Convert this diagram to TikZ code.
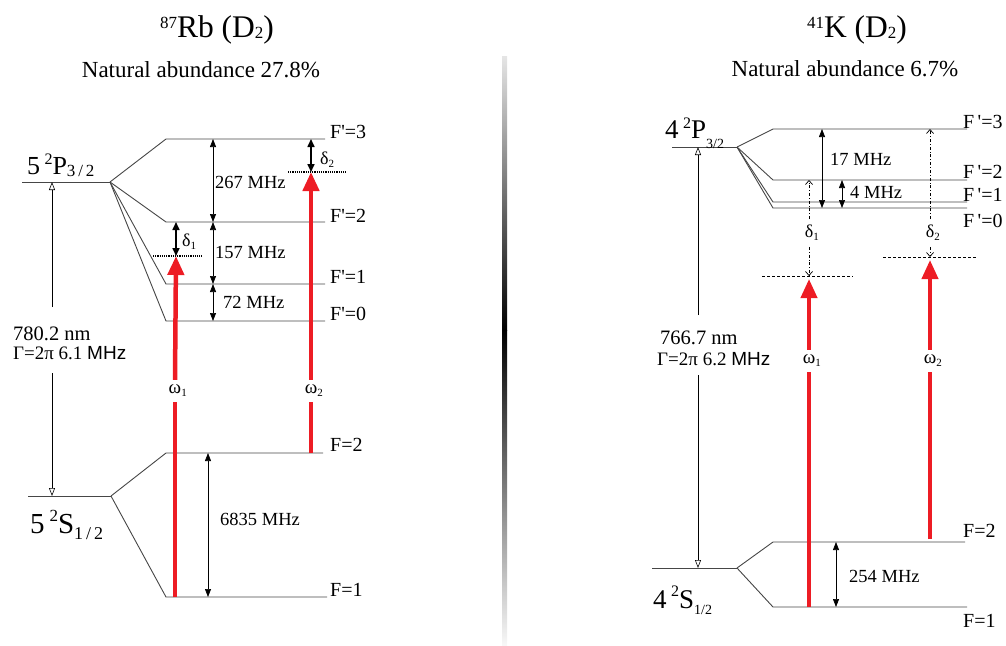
\documentclass[tikz,border=0pt]{standalone}
\usepackage{fontspec}
\setmainfont{Liberation Serif}[Ligatures=TeXOff]
\newfontfamily\sansf{Liberation Sans}
\usetikzlibrary{arrows.meta, positioning, calc}
\definecolor{laser}{RGB}{237,28,36}
\definecolor{lvlgray}{RGB}{70,70,70}
\newcommand\lvsub[1]{\raisebox{-3pt}{\fontsize{11}{11}\selectfont #1}}
\newcommand\isot[1]{\raisebox{9pt}{\fontsize{17}{17}\selectfont #1}}
\newcommand\dsub[1]{\raisebox{-1pt}{\fontsize{17}{17}\selectfont #1}}
\tikzset{
	lvl/.style={draw=lvlgray, line width=0.9pt},
	split/.style={{Triangle[length=8pt,width=6pt]}-{Triangle[length=8pt,width=6pt]}, line width=0.7pt},
	detune/.style={{Triangle[length=8pt,width=7pt]}-{Triangle[length=8pt,width=7pt]}, line width=1.6pt},
	kdetune/.style={-{Straight Barb[length=4pt,width=7pt]}, line width=0.7pt, dash dot},
	beam/.style={draw=laser, line width=4.5pt},
	beamtip/.style={beam, -{Triangle[length=19pt,width=16pt]}},
	decay/.style={line width=0.6pt, -{Triangle[open,length=8pt,width=6pt]}},
	virt/.style={line width=1.2pt, densely dotted},
	kvirt/.style={line width=0.6pt, dash pattern=on 3pt off 2pt},
	flab/.style={font=\fontsize{20}{20}\selectfont, inner sep=0pt, anchor=base west},
	mhz/.style={font=\fontsize{18.5}{18.5}\selectfont, inner sep=0pt, anchor=base west},
	greek/.style={font=\fontsize{19}{19}\selectfont, inner xsep=0pt, inner ysep=5pt},
	state/.style={inner sep=0pt, anchor=base west}
}
\begin{document}
\begin{tikzpicture}[x=1pt, y=-1pt]
	\useasboundingbox (0,0) rectangle (1006,645);

	% titles
	\node[state, anchor=base] (rbtitle) at (217,37) {\fontsize{31.5}{31.5}\selectfont\isot{87}Rb (D\dsub{2})};
	\node[state, anchor=base] (rbnat) at (201,77) {\fontsize{23}{23}\selectfont Natural abundance 27.8\%};
	\node[state, anchor=base] (ktitle) at (857,37) {\fontsize{31.5}{31.5}\selectfont\isot{41}K (D\dsub{2})};
	\node[state, anchor=base] (knat) at (845,76) {\fontsize{23}{23}\selectfont Natural abundance 6.7\%};

	% divider
	\shade[top color=black!10, bottom color=black] (502,56) rectangle (507,330);
	\shade[top color=black, bottom color=black!3] (502,330) rectangle (507,645);

	%%% 87Rb
	\coordinate (rbPa) at (22,182);
	\coordinate (rbP) at (110,182);
	\coordinate (rbF3a) at (166,139); \coordinate (rbF3b) at (325,139);
	\coordinate (rbF2a) at (166,222); \coordinate (rbF2b) at (325,222);
	\coordinate (rbF1a) at (166,284); \coordinate (rbF1b) at (325,284);
	\coordinate (rbF0a) at (166,321); \coordinate (rbF0b) at (325,321);
	\coordinate (rbSa) at (28,496);
	\coordinate (rbS) at (111,496);
	\coordinate (rbG2a) at (166,453); \coordinate (rbG2b) at (323,453);
	\coordinate (rbG1a) at (166,597); \coordinate (rbG1b) at (327,597);

	\draw[lvl] (rbPa) -- (rbP);
	\foreach \f in {F3,F2,F1,F0} {
		\draw[lvl] (rbP) -- (rb\f a) -- (rb\f b);
	}
	\draw[lvl] (rbSa) -- (rbS);
	\draw[lvl] (rbS) -- (rbG2a) -- (rbG2b);
	\draw[lvl] (rbS) -- (rbG1a) -- (rbG1b);

	\node[state, font=\fontsize{26}{26}\selectfont] (rbPlab) at (27,174) {5\,\raisebox{10pt}{\fontsize{16}{16}\selectfont 2}P\raisebox{-2pt}{\fontsize{17}{17}\selectfont 3\,/\,2}};
	\node[state, font=\fontsize{29}{29}\selectfont] (rbSlab) at (30,533) {5\,\raisebox{12pt}{\fontsize{17}{17}\selectfont 2}S\raisebox{-6pt}{\fontsize{18}{18}\selectfont 1\,/\,2}};

	\node[flab] (rbF3lab) at (330,138) {F'=3};
	\node[flab] (rbF2lab) at (330,222) {F'=2};
	\node[flab] (rbF1lab) at (330,283) {F'=1};
	\node[flab] (rbF0lab) at (330,320) {F'=0};
	\node[flab] (rbG2lab) at (330,451) {F=2};
	\node[flab] (rbG1lab) at (330,596) {F=1};

	% hyperfine splittings
	\coordinate (rbsx) at (213,0);
	\coordinate (rbgx) at (208,0);
	\draw[split] (rbsx |- rbF3a) -- (rbsx |- rbF2a);
	\draw[split] (rbsx |- rbF2a) -- (rbsx |- rbF1a);
	\draw[split] (rbsx |- rbF1a) -- (rbsx |- rbF0a);
	\draw[split] (rbgx |- rbG2a) -- (rbgx |- rbG1a);
	\node[mhz] (rb267) at (215,188) {267 MHz};
	\node[mhz] (rb157) at (215,258) {157 MHz};
	\node[mhz] (rb72) at (223,308) {72 MHz};
	\node[mhz] (rb6835) at (220,525) {6835 MHz};

	% detunings
	\coordinate (rbd1) at (176,256);
	\coordinate (rbd2) at (311,172);
	\draw[virt] ([xshift=-23pt]rbd1) -- ([xshift=26pt]rbd1);
	\draw[virt] ([xshift=-23pt]rbd2) -- ([xshift=36pt]rbd2);
	\draw[detune] (rbd1 |- rbF2a) -- (rbd1);
	\draw[detune] (rbd2 |- rbF3a) -- (rbd2);
	\node[state, font=\fontsize{18}{18}\selectfont] (rbd1lab) at (182,246) {δ\lvsub{1}};
	\node[state, font=\fontsize{18}{18}\selectfont] (rbd2lab) at (320,164) {δ\lvsub{2}};

	% lasers
	\node[greek] (rbw1) at (175,391) {ω\rlap{\lvsub{1}}};
	\node[greek] (rbw2) at (311,391) {ω\rlap{\lvsub{2}}};
	\draw[beam] (rbw1 |- rbG1a) -- (rbw1.south);
	\draw[beamtip] (rbw1.north) -- (rbd1);
	\draw[beam] (rbw2 |- rbG2a) -- (rbw2.south);
	\draw[beamtip] (rbw2.north) -- (rbd2);

	% D2 line
	\coordinate (rbax) at (52,0);
	\node[state, font=\fontsize{20.5}{20.5}\selectfont] (rbnm) at (13,340) {780.2 nm};
	\node[state, font=\fontsize{19}{19}\selectfont] (rbgam) at (13,359) {Γ=2π 6.1 {\sansf MHz}};
	\draw[decay] ([yshift=19pt]rbnm.north -| rbax) -- (rbax |- rbP);
	\draw[decay] ([yshift=-14pt]rbgam.south -| rbax) -- (rbax |- rbS);

	%%% 41K
	\coordinate (kPa) at (672,147);
	\coordinate (kP) at (737,147);
	\coordinate (kF3a) at (773,129); \coordinate (kF3b) at (967,129);
	\coordinate (kF2a) at (773,180); \coordinate (kF2b) at (967,180);
	\coordinate (kF1a) at (773,202); \coordinate (kF1b) at (967,202);
	\coordinate (kF0a) at (773,208); \coordinate (kF0b) at (967,208);
	\coordinate (kSa) at (652,568);
	\coordinate (kS) at (737,568);
	\coordinate (kG2a) at (773,542); \coordinate (kG2b) at (965,542);
	\coordinate (kG1a) at (773,607); \coordinate (kG1b) at (967,607);

	\draw[lvl] (kPa) -- (kP);
	\foreach \f in {F3,F2,F1,F0} {
		\draw[lvl] (kP) -- (k\f a) -- (k\f b);
	}
	\draw[lvl] (kSa) -- (kS);
	\draw[lvl] (kS) -- (kG2a) -- (kG2b);
	\draw[lvl] (kS) -- (kG1a) -- (kG1b);

	\node[state, font=\fontsize{27}{27}\selectfont] (kPlab) at (665,138) {4\,\raisebox{10pt}{\fontsize{16}{16}\selectfont 2}P\raisebox{-10pt}{\fontsize{14}{14}\selectfont 3/2}};
	\node[state, font=\fontsize{27}{27}\selectfont] (kSlab) at (653,608) {4\,\raisebox{12pt}{\fontsize{16}{16}\selectfont 2}S\raisebox{-6pt}{\fontsize{14}{14}\selectfont 1/2}};

	\node[flab] (kF3lab) at (963,128) {F\,'=3};
	\node[flab] (kF2lab) at (963,178) {F\,'=2};
	\node[flab] (kF1lab) at (963,201) {F\,'=1};
	\node[flab] (kF0lab) at (963,227) {F\,'=0};
	\node[flab] (kG2lab) at (963,537) {F=2};
	\node[flab] (kG1lab) at (963,627) {F=1};

	% hyperfine splittings
	\coordinate (ksx) at (822,0);
	\coordinate (ktx) at (842,0);
	\coordinate (kgx) at (836,0);
	\draw[split] (ksx |- kF3a) -- (ksx |- kF0a);
	\draw[split] (ktx |- kF2a) -- (ktx |- kF0a);
	\draw[split] (kgx |- kG2a) -- (kgx |- kG1a);
	\node[mhz] (k17) at (830,165) {17 MHz};
	\node[mhz] (k4) at (850,198) {4 MHz};
	\node[mhz] (k254) at (849,582) {254 MHz};

	% detunings
	\coordinate (kd1) at (809,276);
	\coordinate (kd2) at (930,257);
	\draw[kvirt] ([xshift=-47pt]kd1) -- ([xshift=44pt]kd1);
	\draw[kvirt] ([xshift=-47pt]kd2) -- ([xshift=47pt]kd2);
	\node[greek, font=\fontsize{18}{18}\selectfont, inner ysep=6pt] (kd1lab) at (809,233) {δ\rlap{\lvsub{1}}};
	\node[greek, font=\fontsize{18}{18}\selectfont, inner ysep=6pt] (kd2lab) at (930,233) {δ\rlap{\lvsub{2}}};
	\draw[kdetune] (kd1lab.north) -- (kd1 |- kF2a);
	\draw[kdetune] (kd1lab.south) -- (kd1);
	\draw[kdetune] (kd2lab.north) -- (kd2 |- kF3a);
	\draw[kdetune] (kd2lab.south) -- (kd2);

	% lasers
	\coordinate (kt1) at (809,279);
	\coordinate (kt2) at (930,260);
	\node[greek] (kw1) at (809,361) {ω\rlap{\lvsub{1}}};
	\node[greek] (kw2) at (930,361) {ω\rlap{\lvsub{2}}};
	\draw[beam, line width=4pt] (kw1 |- kG1a) -- (kw1.south);
	\draw[beamtip, line width=4pt] (kw1.north) -- (kt1);
	\draw[beam, line width=4pt] ([yshift=3pt]kw2 |- kG2a) -- (kw2.south);
	\draw[beamtip, line width=4pt] (kw2.north) -- (kt2);

	% D2 line
	\coordinate (kax) at (698,0);
	\node[state, font=\fontsize{20.5}{20.5}\selectfont] (knm) at (660,344) {766.7 nm};
	\node[state, font=\fontsize{19}{19}\selectfont] (kgam) at (657,365) {Γ=2π 6.2 {\sansf MHz}};
	\draw[decay] ([yshift=15pt]knm.north -| kax) -- (kax |- kP);
	\draw[decay] ([yshift=-10pt]kgam.south -| kax) -- (kax |- kS);
\end{tikzpicture}
\end{document}
